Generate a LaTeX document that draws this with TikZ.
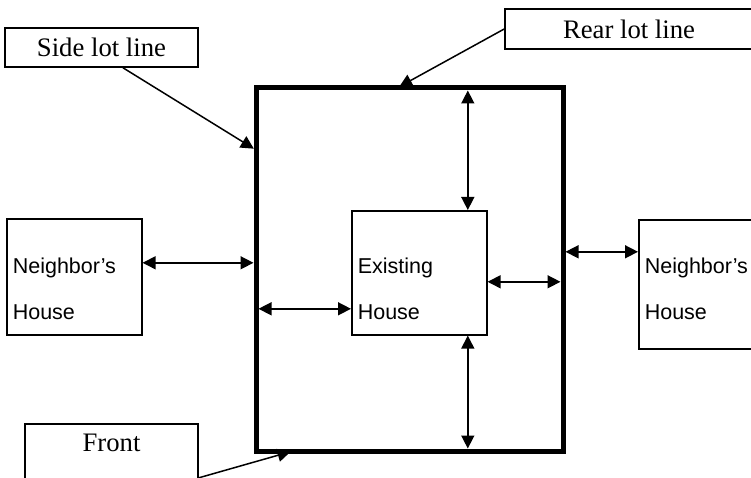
\documentclass[tikz,border=0pt]{standalone}
\usepackage{fontspec}
\setmainfont{Liberation Serif}
\setsansfont{Liberation Sans}
\usetikzlibrary{arrows.meta}

\begin{document}
\begin{tikzpicture}[x=1pt, y=-1pt, >={Triangle[length=13pt,width=13pt]},
    every node/.style={rectangle, draw=black, line width=1.6pt, inner sep=0pt},
    callout/.style={font=\fontsize{26.7}{32}\selectfont},
    house/.style={anchor=north west, inner xsep=6pt, align=left, font=\sffamily\fontsize{21.5}{46}\selectfont},
    tolot/.style={shorten >=2.5pt},
    lead/.style={->, line width=1.5pt, tolot},
    gap/.style={<->, line width=1.5pt, tolot}]
    \useasboundingbox (0,0) rectangle (751,478);
    \clip (0,0) rectangle (751,478);
    \node (lot) [line width=5pt, outer sep=0pt, minimum width=307pt, minimum height=363pt] at (409.5,269.5) {};
    \node (side) [callout, minimum width=193pt, minimum height=39pt] at (101.5,47.5) {Side lot line};
    \node (rear) [callout, minimum width=248pt, minimum height=40pt] at (629,29) {Rear lot line};
    \node (front) [callout, anchor=north, minimum width=173pt, text height=28pt, text depth=80pt] at (111.5,423) {Front};
    \node (nbl) [house, text width=123pt, text height=55pt, text depth=61pt] at (6,218) {Neighbor’s\\House};
    \node (exist) [house, text width=123pt, text height=63pt, text depth=61pt] at (351,210) {Existing\\House};
    \node (nbr) [house, text width=113pt, text height=54pt, text depth=75pt] at (638,219) {Neighbor’s\\House};
    \draw[lead] ([xshift=21.5pt]side.south) -- ([yshift=-62pt]lot.north west);
    \draw[lead] (rear.west) -- ([xshift=141pt]lot.north west);
    \draw[lead] (front.east) -- ([xshift=37pt]lot.south west);
    \draw[gap] ([yshift=14pt]nbl.east) coordinate (gl) -- (gl -| lot.west);
    \draw[gap] ([yshift=-36pt]exist.west) coordinate (gil) -- (gil -| lot.west);
    \draw[gap] ([yshift=-9pt]exist.east) coordinate (gir) -- (gir -| lot.east);
    \draw[gap] ([yshift=32.5pt]nbr.west) coordinate (gr) -- (gr -| lot.east);
    \draw[gap] ([xshift=48.5pt]exist.north) coordinate (gt) -- (gt |- lot.north);
    \draw[gap] ([xshift=48.5pt]exist.south) coordinate (gb) -- (gb |- lot.south);
\end{tikzpicture}
\end{document}
